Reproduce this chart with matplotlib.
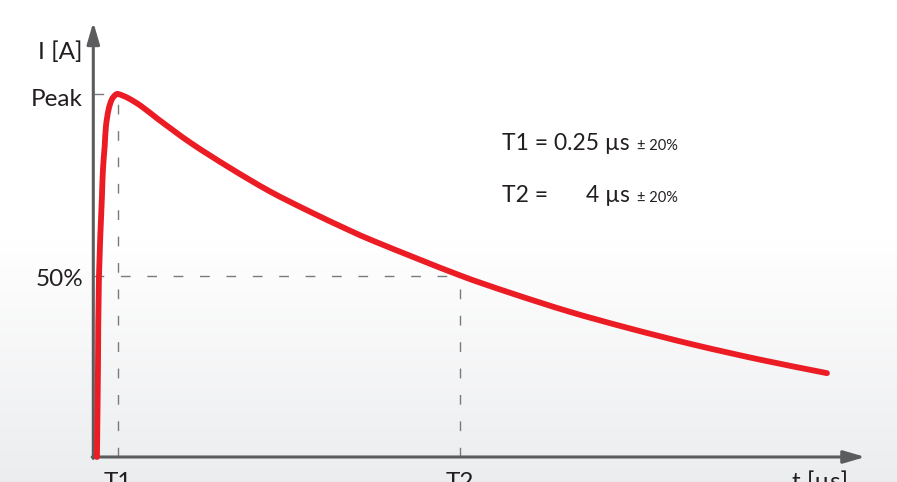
import numpy as np
import matplotlib
matplotlib.use("Agg")
import matplotlib.pyplot as plt
from matplotlib.path import Path
from matplotlib.patches import PathPatch

# impulse current waveform (time in us, current as fraction of peak)
t_us = [0.016, 0.027, 0.038, 0.071, 0.082, 0.101, 0.115, 0.145, 0.181, 0.225,
        0.25, 0.356, 0.499, 0.685, 1.04, 1.47, 1.91, 2.35, 2.77, 3.04,
        4.0, 4.55, 5.2, 5.83, 6.55, 7.29, 8.02]
current = [0.0, 0.24, 0.496, 0.719, 0.793, 0.857, 0.912, 0.959, 0.986, 0.999,
           1.0, 0.989, 0.967, 0.931, 0.866, 0.797, 0.732, 0.676, 0.626, 0.596,
           0.50, 0.452, 0.400, 0.356, 0.310, 0.268, 0.231]

T1 = 0.25   # us, time to peak
T2 = 4.0    # us, time to half value
HALF = 0.5

y_labels = ["I [A]", "Peak", "50%"]
x_labels = ["T1", "T2", "t [\u00b5s]"]
spec_names = ["T1 =", "T2 ="]
spec_values = ["0.25 \u00b5s", "4 \u00b5s"]
tolerance = "\u00b1 20%"

RED = "#ec1c24"
AXIS = "#5c5c5e"
DASH = "#7a7a7a"
TEXT = "#231f20"

# pixel scale of the drawing (px per us, px per unit current)
SX, SY = 91.2, 363.0


def smooth_path(xs, ys):
    """Smooth curve through the points (cubic bezier, chord-length tangents)."""
    p = np.column_stack([np.asarray(xs) * SX, np.asarray(ys) * SY])
    d = np.linalg.norm(np.diff(p, axis=0), axis=1)
    n = len(p)
    m = np.zeros_like(p)
    for i in range(n):
        if i == 0:
            m[i] = (p[1] - p[0]) / d[0]
        elif i == n - 1:
            m[i] = (p[-1] - p[-2]) / d[-1]
        else:
            m[i] = (p[i + 1] - p[i - 1]) / (d[i - 1] + d[i])
    verts = [p[0]]
    codes = [Path.MOVETO]
    for i in range(n - 1):
        verts += [p[i] + m[i] * d[i] / 3, p[i + 1] - m[i + 1] * d[i] / 3, p[i + 1]]
        codes += [Path.CURVE4] * 3
    verts = np.array(verts) / [SX, SY]
    return Path(verts, codes)


plt.rcParams["font.family"] = ["Lato", "DejaVu Sans"]

fig = plt.figure(figsize=(8.97, 4.82), dpi=100)
ax = fig.add_axes([0, 0, 1, 1])
ax.set_xlim(-1.047, 8.788)
ax.set_ylim(-0.0689, 1.259)
ax.axis("off")

# background: white on top, fading to light grey at the bottom
grad = np.ones((482, 1))
grad[240:, 0] = np.linspace(1.0, 0.0, 242)
top = np.array([1.0, 1.0, 1.0])
bot = np.array([0.925, 0.929, 0.937])
img = grad[..., None] * top + (1 - grad[..., None]) * bot
ax.imshow(img, extent=[-1.047, 8.788, -0.0689, 1.259], aspect="auto",
          zorder=0, interpolation="bilinear")

# dashed guides
dash = dict(color=DASH, lw=1.0, linestyle=(0, (7, 12)), zorder=2)
ax.plot([-0.02, T1], [1.0, 1.0], **dash)
ax.plot([T1, T1], [0, 1.0], **dash)
ax.plot([-0.02, T2], [HALF, HALF], **dash)
ax.plot([T2, T2], [0, HALF], **dash)

# axes with arrow heads
x0 = -0.024
arrow = dict(arrowstyle="-|>,head_length=1.3,head_width=0.38", mutation_scale=10,
             color=AXIS, lw=2.2, shrinkA=0, shrinkB=0)
ax.annotate("", xy=(x0, 1.198), xytext=(x0, -0.004), arrowprops=arrow, zorder=3)
ax.annotate("", xy=(8.44, 0), xytext=(x0 - 0.012, 0), arrowprops=arrow, zorder=3)

# waveform
ax.add_patch(PathPatch(smooth_path(t_us, current), fill=False, edgecolor=RED,
                       lw=4.2, capstyle="round", joinstyle="round", zorder=4))

# axis texts
fs = 17.5
ax.text(-0.137, 1.116, y_labels[0], ha="right", va="center", fontsize=fs, color=TEXT)
ax.text(-0.137, 0.967, y_labels[1], ha="right", va="baseline", fontsize=fs, color=TEXT)
ax.text(-0.137, 0.471, y_labels[2], ha="right", va="baseline", fontsize=fs, color=TEXT)
ax.text(T1, -0.088, x_labels[0], ha="center", va="baseline", fontsize=fs, color=TEXT)
ax.text(T2, -0.088, x_labels[1], ha="center", va="baseline", fontsize=fs, color=TEXT)
ax.text(7.64, -0.088, x_labels[2], ha="left", va="baseline", fontsize=fs, color=TEXT)

# specification block
fs_spec = 16.5
rows = [0.846, 0.702]
first = ax.text(4.457, rows[0], spec_names[0] + " " + spec_values[0], ha="left",
                va="baseline", fontsize=fs_spec, color=TEXT)
fig.canvas.draw()
bb = first.get_window_extent(renderer=fig.canvas.get_renderer())
x_end = ax.transData.inverted().transform((bb.x1, 0))[0]
x_tol = ax.transData.inverted().transform((bb.x1 + 7, 0))[0]
ax.text(4.457, rows[1], spec_names[1], ha="left", va="baseline", fontsize=fs_spec, color=TEXT)
ax.text(x_end, rows[1], spec_values[1], ha="right", va="baseline", fontsize=fs_spec, color=TEXT)
for yy in rows:
    ax.text(x_tol, yy, tolerance, ha="left", va="baseline", fontsize=10.5, color=TEXT)

fig.savefig("out.png", dpi=100)
